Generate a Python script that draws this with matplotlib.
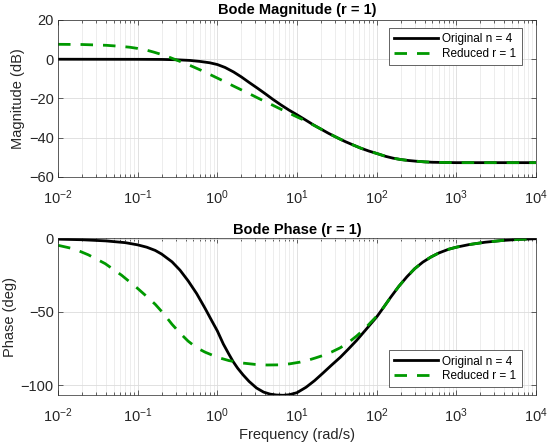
import numpy as np
import matplotlib
matplotlib.use('Agg')
import matplotlib.pyplot as plt
from matplotlib.ticker import FixedLocator, NullFormatter

plt.rcParams['font.family'] = ['Liberation Sans', 'DejaVu Sans']
plt.rcParams['mathtext.default'] = 'regular'

# --- magnitude data (dB) ---
w_mag_orig = [0.01, 0.1, 0.2, 0.3, 0.45, 0.6, 0.8, 1.0, 1.25, 1.6, 2.0, 2.5,
              3.2, 4.0, 5.0, 6.3, 8.0, 10, 12.5, 16, 20, 25, 32, 40, 50, 63,
              80, 100, 130, 160, 200, 250, 320, 400, 500, 700, 1000, 10000]
mag_orig = [0, -0.05, -0.1, -0.25, -0.6, -1.1, -1.8, -2.7, -4.2, -6.5, -9.0,
            -11.8, -14.8, -17.6, -20.5, -23.3, -26.0, -28.3, -30.7, -33.4,
            -35.6, -37.8, -40.0, -41.9, -43.6, -45.3, -46.8, -48.0, -49.5,
            -50.4, -51.1, -51.6, -52.0, -52.3, -52.5, -52.6, -52.7, -52.7]

w_mag_red = [0.01, 0.02, 0.04, 0.06, 0.08, 0.1, 0.13, 0.16, 0.2, 0.25, 0.32,
             0.4, 0.5, 0.63, 0.8, 1.0, 1.25, 1.6, 2.0, 2.5, 3.2, 4.0, 5.0,
             6.3, 8.0, 10, 12.5, 16, 20, 25, 32, 40, 50, 63, 80, 100, 130,
             160, 200, 250, 320, 400, 500, 700, 1000, 10000]
mag_red = [7.6, 7.5, 7.1, 6.6, 6.1, 5.5, 4.6, 3.6, 2.4, 1.0, -0.7, -2.2,
           -3.9, -5.7, -7.7, -9.6, -11.5, -13.7, -15.6, -17.5, -19.7, -21.6,
           -23.5, -25.5, -27.5, -29.4, -31.2, -33.5, -35.6, -37.8, -40.0,
           -41.9, -43.6, -45.3, -46.8, -48.0, -49.5, -50.4, -51.1, -51.6,
           -52.0, -52.3, -52.5, -52.6, -52.7, -52.7]

# --- phase data (deg) ---
w_ph_orig = [0.01, 0.02, 0.04, 0.07, 0.1, 0.13, 0.166, 0.2, 0.27, 0.34, 0.43,
             0.55, 0.7, 0.85, 1.0, 1.19, 1.4, 1.58, 1.8, 2.1, 2.5, 3.1, 3.8,
             4.6, 5.5, 6.7, 8.0, 10, 13, 16.6, 21, 27, 35, 44, 56, 71, 85,
             100, 120, 150, 190, 240, 300, 380, 480, 600, 800, 1000, 1450,
             2300, 3800, 6000, 10000]
ph_orig = [-0.3, -0.7, -1.5, -2.7, -4.2, -5.8, -8.0, -10.5, -15.8, -21.5,
           -28.8, -37.5, -47.5, -56, -63, -72, -79, -84, -88.5, -93, -97.5,
           -102, -104.8, -106.2, -106.8, -107, -106.6, -105.2, -101.5, -97,
           -92, -86.5, -81, -75.5, -69.5, -63, -58, -53.5, -47.5, -40, -32.5,
           -26, -20.5, -16, -12.5, -9.8, -7.2, -5.8, -4.0, -2.4, -1.2, -0.5, 0]

w_ph_red = [0.01, 0.016, 0.024, 0.039, 0.063, 0.1, 0.13, 0.166, 0.21, 0.27,
            0.34, 0.43, 0.55, 0.7, 1.0, 1.4, 2.1, 3.0, 4.2, 6.0, 8.1, 11,
            13.8, 17, 22, 27, 35, 44, 56, 71, 85, 100, 120, 150, 190, 240,
            300, 380, 480, 600, 800, 1000, 1450, 2300, 3800, 6000, 10000]
ph_red = [-4.5, -7, -11, -17, -25, -34, -39.5, -44.8, -51, -58.5, -64.5, -70,
          -74.5, -77.5, -81, -83.3, -85, -85.9, -86.3, -86.2, -85.5, -84.3,
          -83, -81.5, -79.5, -77.5, -74.5, -71, -66.5, -61.5, -57, -53, -47.5,
          -40, -32.5, -26, -20.5, -16, -12.5, -9.8, -7.2, -5.8, -4.0, -2.4,
          -1.2, -0.5, 0]

labels = ['Original n = 4', 'Reduced r = 1']
decades = [1e-2, 1e-1, 1e0, 1e1, 1e2, 1e3, 1e4]
GREEN = (0, 0.6, 0)
AXC = '#262626'


def style_axes(ax):
    ax.set_xscale('log')
    ax.set_xlim(1e-2, 1e4)
    ax.set_xticks(decades)
    minors = [m * d for d in decades[:-1] for m in range(2, 10)]
    ax.xaxis.set_minor_locator(FixedLocator(minors))
    ax.xaxis.set_minor_formatter(NullFormatter())
    ax.grid(True, which='major', color='#dcdcdc', lw=0.6)
    ax.grid(True, which='minor', axis='x', color='#e6e6e6', lw=0.5)
    ax.set_axisbelow(True)
    ax.tick_params(which='both', direction='in', top=True, right=True,
                   colors=AXC, labelsize=10.5)
    ax.tick_params(axis='x', which='major', pad=8)
    ax.tick_params(axis='y', which='major', pad=3)
    ax.tick_params(which='major', length=3.5, width=0.5)
    ax.tick_params(which='minor', length=2, width=0.5)
    for sp in ax.spines.values():
        sp.set_color(AXC)
        sp.set_linewidth(0.5)


fig = plt.figure(figsize=(5.5, 4.44), dpi=100)
ax1 = fig.add_axes([0.1055, 0.6014, 0.869, 0.3536])
ax2 = fig.add_axes([0.1055, 0.1097, 0.869, 0.3543])

ax1.plot(w_mag_orig, mag_orig, color='black', lw=2, label=labels[0])
ax1.plot(w_mag_red, mag_red, color=GREEN, lw=2, dashes=(4.5, 3.6), label=labels[1])
style_axes(ax1)
ax1.set_ylim(-60, 20)
ax1.set_yticks([-60, -40, -20, 0, 20])
ax1.set_ylabel('Magnitude (dB)', fontsize=10.5, color=AXC, labelpad=3)
ax1.set_title('Bode Magnitude (r = 1)', fontsize=10.5, fontweight='bold', pad=4)

ax2.plot(w_ph_orig, ph_orig, color='black', lw=2, label=labels[0])
ax2.plot(w_ph_red, ph_red, color=GREEN, lw=2, dashes=(4.5, 3.6), label=labels[1])
style_axes(ax2)
ax2.set_ylim(-107, 0.5)
ax2.set_yticks([-100, -50, 0])
ax2.set_ylabel('Phase (deg)', fontsize=10.5, color=AXC, labelpad=3)
ax2.set_xlabel('Frequency (rad/s)', fontsize=10.5, color=AXC, labelpad=2)
ax2.set_title('Bode Phase (r = 1)', fontsize=10.5, fontweight='bold', pad=3)

leg_kw = dict(fontsize=8.5, handlelength=3.7, handletextpad=0.4, borderpad=0.43,
              labelspacing=0.2, borderaxespad=0, fancybox=False, framealpha=1,
              edgecolor=AXC)
l1 = ax1.legend(loc='upper right', bbox_to_anchor=(0.970, 0.947), **leg_kw)
l2 = ax2.legend(loc='lower right', bbox_to_anchor=(0.970, 0.053), **leg_kw)
for lg in (l1, l2):
    lg.get_frame().set_linewidth(0.5)

fig.savefig('out.png', dpi=100)
